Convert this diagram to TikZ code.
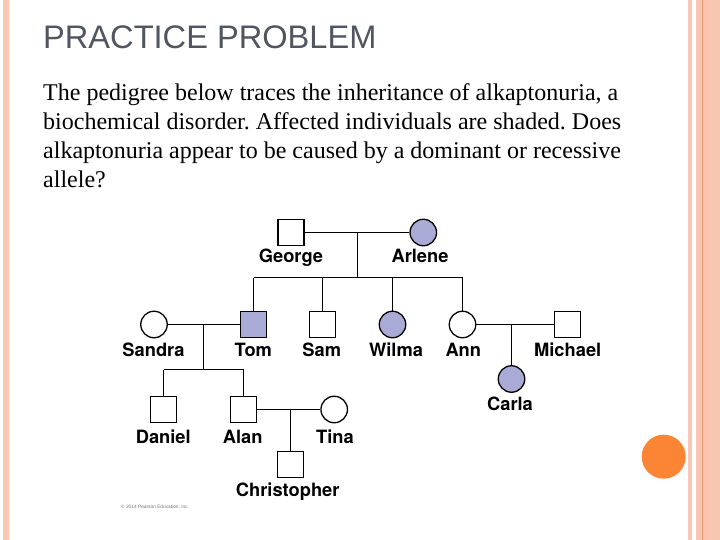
\documentclass[tikz,border=0pt]{standalone}
\usepackage{fontspec}
\setmainfont{Liberation Serif}
\newfontfamily\helv{TeX Gyre Heros}
\newfontfamily\arialf{Liberation Sans}
\definecolor{stripe}{RGB}{249,199,180}
\definecolor{stripeB}{RGB}{250,196,176}
\definecolor{stripeline}{RGB}{232,150,110}
\definecolor{dotorange}{RGB}{252,132,53}
\definecolor{titlegray}{RGB}{80,85,95}
\definecolor{affected}{RGB}{170,170,214}
\frenchspacing
\tikzset{
  male/.style={draw=black,line width=1.3bp,minimum size=26bp,inner sep=0pt,shape=rectangle,fill=white},
  female/.style={draw=black,line width=1.3bp,minimum size=26.5bp,inner sep=0pt,shape=circle,fill=white},
  aff/.style={fill=affected},
  lbl/.style={font=\helv\bfseries\fontsize{18.3bp}{20bp}\selectfont,anchor=base,inner sep=0pt},
  link/.style={line width=1.2bp,draw=black},
  bodytxt/.style={font=\fontsize{24bp}{29bp}\selectfont,anchor=base west,inner sep=0pt}
}
\begin{document}
\begin{tikzpicture}[x=1bp,y=-1bp]
\useasboundingbox (0,0) rectangle (720,540);
\fill[white] (0,0) rectangle (720,540);
% decorative stripes
\fill[stripe] (3,0) rectangle (9,540);
\fill[stripe] (688,0) rectangle (692,540);
\fill[stripeB] (696,0) rectangle (720,540);
\fill[stripe!80!stripeB] (707,0) rectangle (720,540);
\fill[stripeline] (702,0) rectangle (703.2,540);
\fill[dotorange] (663.7,456.7) circle (22);
% title and text
\node[anchor=base west,inner sep=0pt,text=titlegray,font=\arialf\fontsize{32.6bp}{34bp}\selectfont] (title) at (43,49) {PRACTICE PROBLEM};
\node[bodytxt] (l1) at (43,101) {The pedigree below traces the inheritance of alkaptonuria, a};
\node[bodytxt] (l2) at (43,130) {biochemical disorder. Affected individuals are shaded. Does};
\node[bodytxt] (l3) at (43,159) {alkaptonuria appear to be caused by a dominant or recessive};
\node[bodytxt] (l4) at (43,188) {allele?};
% generation I
\node[male] (george) at (291,232.5) {};
\node[female,aff] (arlene) at (423.3,232.5) {};
\coordinate (m1) at (357.5,232.5);
\coordinate (s1) at (357.5,277.5);
% generation II
\node[female] (sandra) at (154,324.5) {};
\node[male,aff] (tom) at (253.5,324.5) {};
\node[male] (sam) at (322.5,324.5) {};
\node[female,aff] (wilma) at (392.5,324.5) {};
\node[female] (ann) at (462.5,324.5) {};
\node[male] (michael) at (567.7,324.5) {};
\coordinate (tomtop) at (253.5,277.5);
\coordinate (samtop) at (322.5,277.5);
\coordinate (wilmatop) at (392.5,277.5);
\coordinate (anntop) at (462.5,277.5);
\coordinate (m2) at (203.5,324.5);
\coordinate (s2) at (203.5,369.5);
\coordinate (m3) at (511.5,324.5);
% generation III
\node[male] (daniel) at (163.5,409.5) {};
\node[male] (alan) at (243.5,409.5) {};
\node[female] (tina) at (334.2,409.5) {};
\node[female,aff] (carla) at (511.5,379) {};
\coordinate (danieltop) at (163.5,369.5);
\coordinate (alantop) at (243.5,369.5);
\coordinate (m4) at (290.5,409.5);
% generation IV
\node[male] (chris) at (290.5,464.7) {};
% connectors
\draw[link] (george) -- (arlene);
\draw[link] (m1) -- (s1);
\draw[link] (tomtop) -- (anntop);
\draw[link] (tomtop) -- (tom);
\draw[link] (samtop) -- (sam);
\draw[link] (wilmatop) -- (wilma);
\draw[link] (anntop) -- (ann);
\draw[link] (sandra) -- (tom);
\draw[link] (m2) -- (s2);
\draw[link] (danieltop) -- (alantop);
\draw[link] (danieltop) -- (daniel);
\draw[link] (alantop) -- (alan);
\draw[link] (ann) -- (michael);
\draw[link] (m3) -- (carla);
\draw[link] (alan) -- (tina);
\draw[link] (m4) -- (chris);
% labels
\node[lbl] (lgeorge) at (291,262.5) {George};
\node[lbl] (larlene) at (420,262.5) {Arlene};
\node[lbl] (lsandra) at (153.5,356.5) {Sandra};
\node[lbl] (ltom) at (253.3,356.5) {Tom};
\node[lbl] (lsam) at (321.7,356.5) {Sam};
\node[lbl] (lwilma) at (396,356.5) {Wilma};
\node[lbl] (lann) at (463.3,356.5) {Ann};
\node[lbl] (lmichael) at (567.7,356.5) {Michael};
\node[lbl] (lcarla) at (510,410.5) {Carla};
\node[lbl] (ldaniel) at (163.3,443) {Daniel};
\node[lbl] (lalan) at (242.7,443) {Alan};
\node[lbl] (ltina) at (335,443) {Tina};
\node[lbl] (lchris) at (287.7,496.5) {Christopher};
\node[anchor=base west,inner sep=0pt,text=black!55,font=\arialf\fontsize{4.8bp}{5bp}\selectfont] (copy) at (121,508.5) {© 2014 Pearson Education, Inc.};
\end{tikzpicture}
\end{document}
